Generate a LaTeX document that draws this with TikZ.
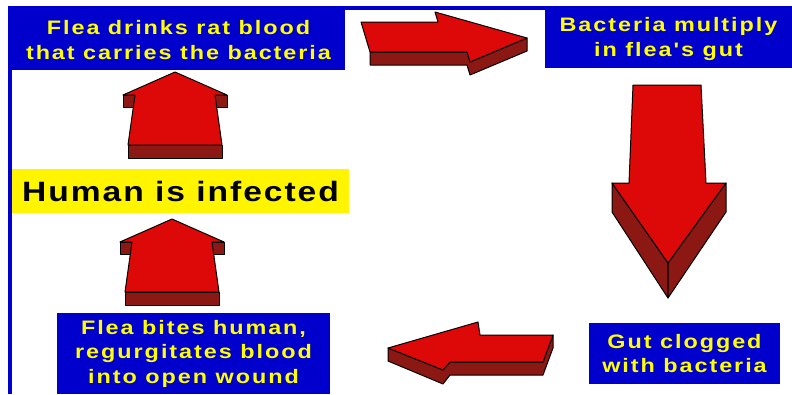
\documentclass[tikz,border=0pt]{standalone}
\usepackage{fontspec}
\newfontfamily\labelfont[FakeStretch=1.2,LetterSpace=10]{Liberation Sans}
\newfontfamily\bannerfont[FakeStretch=1.2,LetterSpace=7]{Liberation Sans}
\usetikzlibrary{positioning}
\definecolor{frameblue}{RGB}{0,0,204}
\definecolor{labelyellow}{RGB}{255,255,0}
\definecolor{boxyellow}{RGB}{255,245,0}
\definecolor{arrowred}{RGB}{221,8,8}
\definecolor{arrowdark}{RGB}{140,24,20}

\begin{document}
\begin{tikzpicture}[x=1pt,y=-1pt,
  bluebox/.style={fill=frameblue,text=labelyellow,inner sep=0pt,align=center,
                  font=\labelfont\bfseries\fontsize{19.5}{24.5}\selectfont},
  yellowbox/.style={fill=boxyellow,text=black,inner sep=0pt,align=center,
                  font=\bannerfont\bfseries\fontsize{28}{30}\selectfont},
  front/.style={fill=arrowred,draw=black,line width=1pt,line join=round},
  side/.style={fill=arrowdark,draw=black,line width=1pt,line join=round},
  uparrow/.pic={
    \path[side] (-52,23) rectangle (-38,35);
    \path[side] (38,23) rectangle (52,35);
    \path[side] (-47,73) rectangle (47,86);
    \path[front] (0,0) -- (52,23) -- (40,23) -- (47,73) -- (-47,73)
      -- (-40,23) -- (-52,23) -- cycle;
  }]
\useasboundingbox (0,0) rectangle (792,394);
\fill[frameblue] (8,6) rectangle (792,10);
\fill[frameblue] (8,6) rectangle (12,394);

\node[bluebox,minimum width=333pt,minimum height=60pt] (drink) at (178.5,40)
  {Flea drinks rat blood\\that carries the bacteria};
\node[bluebox,minimum width=247pt,minimum height=58pt] (multiply) at (668.5,39)
  {Bacteria multiply\\in flea's gut};
\node[bluebox,minimum width=191pt,minimum height=61pt] (clog) at (684.5,353.5)
  {Gut clogged\\with bacteria};
\node[bluebox,minimum width=273pt,minimum height=81pt] (bite) at (193.5,353.5)
  {Flea bites human,\\regurgitates blood\\into open wound};
\node[yellowbox,minimum width=337pt,minimum height=44pt] (human) at (180.5,191)
  {Human is infected};

\path[side] (370,52) -- (467,52) -- (470,62) -- (527,38) -- (527,51)
  -- (470,75) -- (467,65) -- (370,65) -- cycle;
\path[front] (361,22) -- (438,22) -- (435,12) -- (527,38) -- (470,62)
  -- (467,52) -- (370,52) -- cycle;

\path[side] (612,183) -- (668,263) -- (668,298) -- (612,212) -- cycle;
\path[side] (726,183) -- (726,212) -- (668,298) -- (668,263) -- cycle;
\path[front] (633,85) -- (701,85) -- (706,183) -- (726,183) -- (668,263)
  -- (612,183) -- (629,183) -- cycle;

\path[side] (388,348) -- (443,370) -- (450,362) -- (543,362) -- (553,335)
  -- (553,348) -- (543,375) -- (450,375) -- (443,384) -- (388,361) -- cycle;
\path[front] (553,335) -- (480,335) -- (478,322) -- (388,348) -- (443,370)
  -- (450,362) -- (543,362) -- cycle;

\pic at (175,72) {uparrow};
\pic at (172,219) {uparrow};
\end{tikzpicture}
\end{document}
